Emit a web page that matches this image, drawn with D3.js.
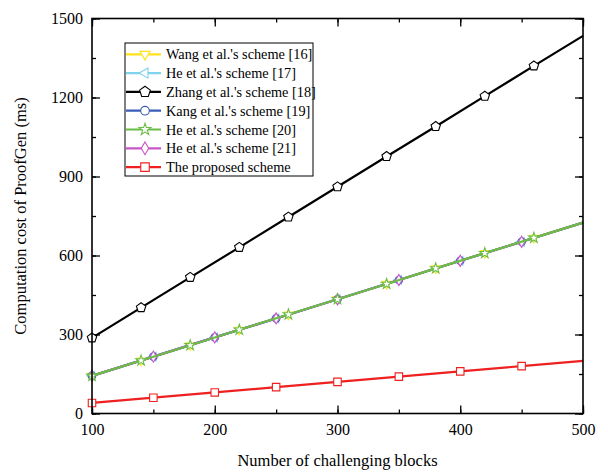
<!DOCTYPE html>
<html><head><meta charset="utf-8">
<script src="https://cdn.jsdelivr.net/npm/d3@7"></script>
<style>body{margin:0;background:#fff}svg{display:block}</style>
</head><body><svg id="c" width="608" height="472"></svg>
<script>
// ---- data ----
const xStep40 = [100,140,180,220,260,300,340,380,420,460,500];
const xStep50 = [100,150,200,250,300,350,400,450,500];
const wang16  = [143,201,259,318,376,434,492,551,609,667,725];
const he17    = [143,216,289,361,434,507,580,652,725];
const zhang18 = [287,402,517,631,746,861,976,1090,1205,1320,1434];
const kang19  = [143,216,289,361,434,507,580,652,725];
const he20    = [143,201,259,318,376,434,492,551,609,667,725];
const he21    = [143,216,289,361,434,507,580,652,725];
const proposed= [40,60,80,100,120,140,160,180,200];
const xTicks = [100,200,300,400,500];
const yTicks = [0,300,600,900,1200,1500];
const seriesNames = ["Wang et al.'s scheme [16]","He et al.'s scheme [17]","Zhang et al.'s scheme [18]","Kang et al.'s scheme [19]","He et al.'s scheme [20]","He et al.'s scheme [21]","The proposed scheme"];

// ---- setup ----
const FONT="'Liberation Serif'";
const pentagon = {draw(ctx,size){const r=Math.sqrt(size/2.378);for(let i=0;i<5;i++){const a=-Math.PI/2+i*2*Math.PI/5;const x=r*Math.cos(a),y=r*Math.sin(a);i?ctx.lineTo(x,y):ctx.moveTo(x,y);}ctx.closePath();}};
const series = [
  {name:seriesNames[0], xs:xStep40, ys:wang16, color:"#FFE21A", sym:d3.symbolTriangle, rot:180, size:34},
  {name:seriesNames[1], xs:xStep50, ys:he17, color:"#7FD3EA", sym:d3.symbolTriangle, rot:-90, size:34},
  {name:seriesNames[2], xs:xStep40, ys:zhang18, color:"#000000", sym:pentagon, rot:0, size:58},
  {name:seriesNames[3], xs:xStep50, ys:kang19, color:"#3A5DB8", sym:d3.symbolCircle, rot:0, size:45},
  {name:seriesNames[4], xs:xStep40, ys:he20, color:"#6BBE45", sym:d3.symbolStar, rot:0, size:34},
  {name:seriesNames[5], xs:xStep50, ys:he21, color:"#C855C8", sym:d3.symbolDiamond, rot:0, size:36},
  {name:seriesNames[6], xs:xStep50, ys:proposed, color:"#EE2020", sym:d3.symbolSquare, rot:0, size:56}
];
const drawOrder = [0,1,3,5,4,2,6];

const L=92,R=583,T=18.5,B=413.5;
const svg=d3.select("#c");
const x=d3.scaleLinear().domain([100,500]).range([L,R]);
const y=d3.scaleLinear().domain([0,1500]).range([B,T]);

const minorX=d3.range(100,501,50), minorY=d3.range(0,1501,150);
function axisSet(axisFn, scale, vals, minor, tf, labels){
  const g=svg.append("g").attr("transform",tf);
  g.call(axisFn(scale).tickValues(minor).tickSize(-4).tickFormat(""));
  const g2=svg.append("g").attr("transform",tf);
  g2.call(axisFn(scale).tickValues(vals).tickSize(-8).tickPadding(labels?10:0).tickFormat(labels?d3.format("d"):""));
  [g,g2].forEach(gg=>{gg.select(".domain").remove();gg.selectAll("line").attr("stroke","#000").attr("stroke-width",1.3);});
  g2.selectAll("text").attr("font-size",16).style("font-family",FONT).attr("fill","#000");
  return g2;
}
const gx=axisSet(d3.axisBottom,x,xTicks,minorX,`translate(0,${B})`,true);
gx.selectAll("text").attr("dy",null).attr("y",21.5);
axisSet(d3.axisTop,x,xTicks,minorX,`translate(0,${T})`,false);
const gy=axisSet(d3.axisLeft,y,yTicks,minorY,`translate(${L},0)`,true);
gy.selectAll("text").attr("x",-9).attr("dy","0.34em");
axisSet(d3.axisRight,y,yTicks,minorY,`translate(${R},0)`,false);

const line=d3.line().x(d=>x(d[0])).y(d=>y(d[1]));
drawOrder.forEach(i=>{
  const s=series[i];
  const pts=s.xs.map((v,k)=>[v,s.ys[k]]);
  svg.append("path").attr("d",line(pts)).attr("fill","none").attr("stroke",s.color).attr("stroke-width",2.2);
  svg.append("g").selectAll("path").data(pts.slice(0,-1)).join("path")
    .attr("d",d3.symbol().type(s.sym).size(s.size))
    .attr("transform",d=>`translate(${x(d[0])},${y(d[1])}) rotate(${s.rot})`)
    .attr("fill","#fff").attr("stroke",s.color).attr("stroke-width",1.1);
});

svg.append("rect").attr("x",L).attr("y",T).attr("width",R-L).attr("height",B-T)
  .attr("fill","none").attr("stroke","#000").attr("stroke-width",1.6);

const lg=svg.append("g");
lg.append("rect").attr("x",125).attr("y",43).attr("width",188).attr("height",133)
  .attr("fill","#fff").attr("stroke","#000").attr("stroke-width",1);
series.forEach((s,i)=>{
  const cy=54.3+i*18.8;
  lg.append("line").attr("x1",126).attr("x2",161).attr("y1",cy).attr("y2",cy).attr("stroke",s.color).attr("stroke-width",2.2);
  lg.append("path").attr("d",d3.symbol().type(s.sym).size(s.size*1.3)).attr("transform",`translate(145,${cy}) rotate(${s.rot})`)
    .attr("fill","#fff").attr("stroke",s.color).attr("stroke-width",1.1);
  lg.append("text").attr("x",166).attr("y",cy).attr("dy","0.35em").attr("font-size",14.3).style("font-family",FONT).attr("fill","#000").text(s.name);
});

svg.append("text").attr("x",(L+R)/2).attr("y",465.5).attr("text-anchor","middle").attr("font-size",16.5).style("font-family",FONT).attr("fill","#000").text("Number of challenging blocks");
svg.append("text").attr("transform",`translate(26,${(T+B)/2}) rotate(-90)`).attr("text-anchor","middle").attr("font-size",16.5).style("font-family",FONT).attr("fill","#000").text("Computation cost of ProofGen (ms)");
</script></body></html>
